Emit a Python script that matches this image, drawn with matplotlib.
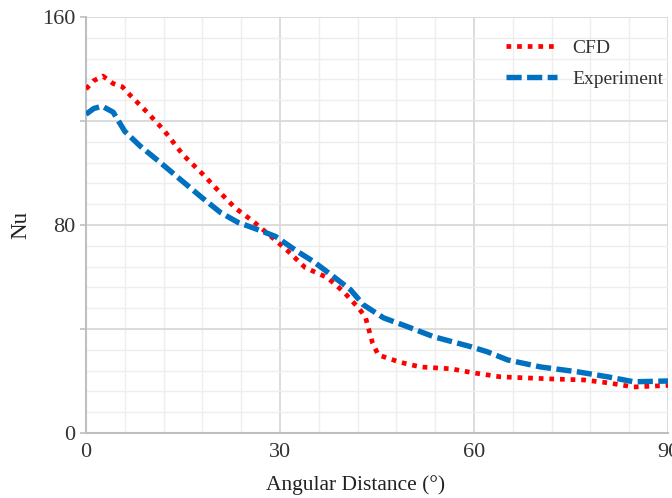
import numpy as np
import matplotlib
matplotlib.use("Agg")
from matplotlib import pyplot as plt
from matplotlib.ticker import MultipleLocator, FixedLocator, FixedFormatter

plt.rcParams['font.family'] = ['Liberation Serif', 'DejaVu Serif']

# Nusselt number around the cylinder
cfd_angle = [0, 1.2, 2.6, 4.2, 5.6, 6.8, 9.4, 12.0, 15.0, 18.2, 20.8, 23.1, 25.9,
             28.8, 31.3, 33.9, 37.3, 39.8, 42.1, 43.2, 44.3, 45.2, 48.6, 51.7,
             56.4, 60.0, 64.1, 71.9, 77.0, 80.7, 84.7, 90.0]
cfd_nu = [132.3, 135.5, 137.3, 134.4, 133.2, 130.0, 123.5, 116.6, 107.0, 99.2,
          92.3, 86.5, 81.3, 75.2, 69.8, 63.6, 59.8, 54.4, 48.2, 44.7, 34.7,
          30.0, 27.2, 25.4, 24.7, 23.1, 21.6, 20.8, 20.4, 19.3, 17.7, 18.3]

exp_angle = [0, 1.2, 2.5, 4.2, 6.0, 8.4, 11.5, 14.6, 17.7, 20.8, 23.5, 26.5,
             29.3, 32.7, 35.2, 38.3, 40.9, 42.9, 46.0, 49.7, 53.8, 59.5, 62.1,
             65.2, 70.3, 76.1, 80.7, 84.7, 90.0]
exp_nu = [122.6, 124.8, 125.7, 123.4, 116.0, 110.3, 104.0, 97.5, 91.0, 84.8,
          81.0, 78.3, 75.6, 69.8, 65.9, 60.1, 55.1, 49.3, 44.3, 40.9, 37.0,
          33.2, 31.2, 28.1, 25.4, 23.5, 21.6, 19.7, 20.0]

y_ticks = [0, 40, 80, 120, 160]
y_labels = ["0", "", "80", "", "160"]
x_ticks = [0, 30, 60, 90]

fig = plt.figure(figsize=(6.72, 4.98), dpi=100)
ax = fig.add_axes([86/672, 1-433/498, 582/672, 416/498])

ax.plot(cfd_angle, cfd_nu, color="#ff0000", lw=3.4, ls=(0, (1, 1.25)),
        dash_capstyle="butt", label="CFD", zorder=3)
ax.plot(exp_angle, exp_nu, color="#0070c0", lw=3.9, ls=(0, (2.8, 1.0)),
        dash_capstyle="butt", label="Experiment", zorder=3)

ax.set_xlim(0, 90)
ax.set_ylim(0, 160)
ax.xaxis.set_major_locator(FixedLocator(x_ticks))
ax.xaxis.set_minor_locator(MultipleLocator(6))
ax.yaxis.set_major_locator(FixedLocator(y_ticks))
ax.yaxis.set_major_formatter(FixedFormatter(y_labels))
ax.yaxis.set_minor_locator(MultipleLocator(8))

ax.grid(which="major", color="#d9d9d9", lw=1.3)
ax.grid(which="minor", color="#eeeeee", lw=1.0)
ax.set_axisbelow(True)

for s in ["top", "right"]:
    ax.spines[s].set_visible(False)
for s in ["left", "bottom"]:
    ax.spines[s].set_color("#bfbfbf")
    ax.spines[s].set_linewidth(1.5)

ax.tick_params(which="major", length=4.5, width=1.2, color="#bfbfbf",
               labelsize=16, labelcolor="#333333", pad=3)
ax.tick_params(axis="x", which="major", length=0, pad=7)
ax.tick_params(which="minor", length=0)

ax.set_xlabel("Angular Distance (°)", fontsize=15.5, color="#222222")
ax.xaxis.set_label_coords(0.464, -0.102)
ax.set_ylabel("Nu", fontsize=16.5, color="#222222", labelpad=8)

leg = ax.legend(loc="upper right", bbox_to_anchor=(1.012, 0.975), frameon=False,
                fontsize=14, handlelength=2.6, handletextpad=0.8,
                labelspacing=0.7, borderaxespad=0.2)
for t in leg.get_texts():
    t.set_color("#333333")

fig.savefig("out.png", dpi=100)
